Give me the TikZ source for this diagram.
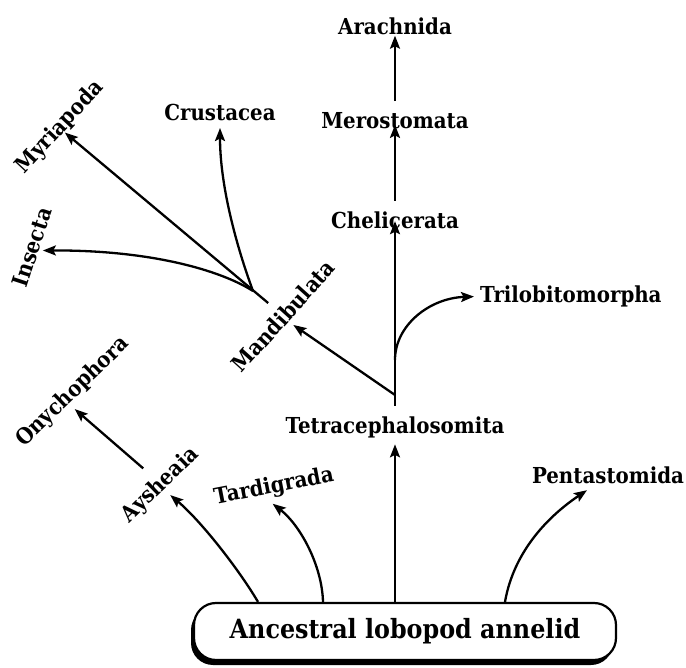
\documentclass[tikz,border=0pt]{standalone}
\usepackage{fontspec}
\newfontfamily\lblfont{DejaVu Serif}[FakeStretch=0.9]
\usetikzlibrary{arrows.meta,shadows}
\begin{document}
\begin{tikzpicture}[x=1pt,y=-1pt,
  lbl/.style={font=\lblfont\bfseries\fontsize{22}{25}\selectfont, inner sep=3pt},
  arr/.style={line width=2.3pt, -{Stealth[length=13pt,width=10pt,inset=2.5pt]}}]
\useasboundingbox (0,0) rectangle (686,668);

% base box
\node[draw, line width=2.2pt, rounded corners=22pt, minimum width=422pt, minimum height=57pt,
  fill=white, drop shadow={shadow xshift=-3pt, shadow yshift=-5pt, fill=black, opacity=1},
  font=\lblfont\bfseries\fontsize{26.5}{30}\selectfont] (box) at (405,631.5) {Ancestral lobopod annelid};

% labels
\node[lbl] (arach) at (395,26) {Arachnida};
\node[lbl] (mero) at (395,120.5) {Merostomata};
\node[lbl] (chel) at (395,220.5) {Chelicerata};
\node[lbl] (tetra) at (395,427) {Tetracephalosomita};
\node[lbl, anchor=west] (trilo) at (477,296.5) {Trilobitomorpha};
\node[lbl] (crust) at (220,112.5) {Crustacea};
\node[lbl] (penta) at (608,475.5) {Pentastomida};
\node[lbl, rotate=47] (myria) at (60,127.5) {Myriapoda};
\node[lbl, rotate=72] (insecta) at (32,247) {Insecta};
\node[lbl, rotate=48] (mand) at (283,316) {Mandibulata};
\node[lbl, rotate=44] (onych) at (73,392) {Onychophora};
\node[lbl, rotate=44] (aysh) at (160.5,485) {Aysheaia};
\node[lbl, rotate=11] (tard) at (274,487) {Tardigrada};

% branch points
\coordinate (tm) at (395,395);
\coordinate (tt) at (395,360);
\coordinate (cj) at (253,291);

% central stem
\draw[arr, shorten >=3.5pt] ([xshift=-10pt]box.north) -- (tetra.south);
\draw[arr, shorten <=7.5pt, shorten >=-11pt] (tetra.north) -- (chel.south);
\draw[arr, shorten <=8pt, shorten >=-7pt] (chel.north) -- (mero.south);
\draw[arr, shorten <=8pt, shorten >=-2pt] (mero.north) -- (arach.south);

% trilobitomorpha
\draw[arr, shorten >=3pt] (tt) .. controls (395,325) and (430,298) .. (trilo.west);

% mandibulata
\draw[arr, shorten >=2pt] (tm) -- (mand.south);
\draw[arr, shorten <=8pt, shorten >=-7pt] (mand.north) -- (myria.south);
\draw[arr] (cj) .. controls (236,245) and (220,185) .. ([yshift=-4pt]crust.south);
\draw[arr] (cj) .. controls (220,270) and (150,250) .. (insecta.south);

% lower branches
\draw[arr] ([xshift=-147pt]box.north) .. controls (238,568) and (200,520) .. (aysh.south);
\draw[arr, shorten <=10pt] (aysh.north) -- ([xshift=-8pt,yshift=-7pt]onych.south);
\draw[arr] ([xshift=-82pt]box.north) .. controls (322,565) and (300,525) .. ([xshift=-4pt,yshift=-3pt]tard.south);
\draw[arr] ([xshift=100pt]box.north) .. controls (514,550) and (550,515) .. ([xshift=-21pt,yshift=-3pt]penta.south);
\end{tikzpicture}
\end{document}
